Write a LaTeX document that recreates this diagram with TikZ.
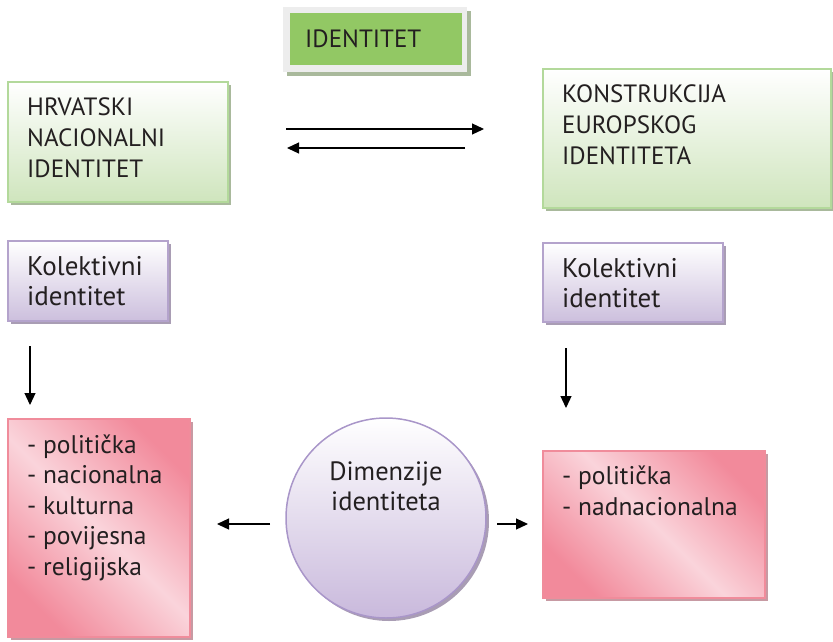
\documentclass[tikz,border=0pt]{standalone}
\usepackage{fontspec}
\setmainfont{PT Sans}
\usetikzlibrary{arrows.meta,shadows}
\definecolor{txt}{HTML}{231F20}
\definecolor{grnborder}{HTML}{B3D99B}
\definecolor{grnbot}{HTML}{CFE5BD}
\definecolor{grnshadow}{HTML}{A9B99C}
\definecolor{idframe}{HTML}{EDEDED}
\definecolor{idgreen}{HTML}{92C864}
\definecolor{purborder}{HTML}{B4A3CC}
\definecolor{purbot}{HTML}{CCBFDD}
\definecolor{purshadow}{HTML}{A99DB4}
\definecolor{pinkborder}{HTML}{F08C9B}
\definecolor{pinkdark}{HTML}{F28A9B}
\definecolor{pinklight}{HTML}{FAD4DB}
\definecolor{pinkshadow}{HTML}{C79AA3}
\definecolor{circborder}{HTML}{A996C9}
\definecolor{circbot}{HTML}{C9B9DC}
\begin{document}
\begin{tikzpicture}[x=1pt,y=-1pt,
  boxbase/.style={inner sep=0pt, outer sep=0pt, anchor=north west, line width=1.5pt},
  greenbox/.style={boxbase, draw=grnborder, top color=white, bottom color=grnbot,
    drop shadow={shadow xshift=3pt, shadow yshift=-3pt, fill=grnshadow, opacity=1}},
  purplebox/.style={boxbase, draw=purborder, top color=white, bottom color=purbot,
    drop shadow={shadow xshift=3pt, shadow yshift=-3pt, fill=purshadow, opacity=1}},
  pinkbox/.style={boxbase, draw=pinkborder, top color=pinkdark, bottom color=pinkdark,
    middle color=pinklight, shading angle=-45,
    drop shadow={shadow xshift=3pt, shadow yshift=-3pt, fill=pinkshadow, opacity=1}},
  bigtxt/.style={font=\fontsize{25}{31}\selectfont, text=txt, align=left, inner sep=0pt, anchor=base west},
  purtxt/.style={font=\fontsize{27}{29.5}\selectfont, text=txt, align=left, inner sep=0pt, anchor=base west},
  pinktxt/.style={font=\fontsize{25.5}{30.5}\selectfont, text=txt, align=left, inner sep=0pt, anchor=base west},
  arr/.style={-{Triangle[length=12pt,width=11pt]}, line width=1.2pt, black}
]
\useasboundingbox (0,0) rectangle (833,641);

% top IDENTITET box
\node[boxbase, fill=idframe, minimum width=184pt, minimum height=65pt,
  drop shadow={shadow xshift=4pt, shadow yshift=-4pt, fill=grnshadow, opacity=1}] (idframe) at (283,7) {};
\node[boxbase, fill=idgreen, minimum width=172pt, minimum height=52pt] (idbox) at (290,13) {};
\node[bigtxt] (idtxt) at (305,47) {IDENTITET};

% green boxes (text anchored at the baseline of the last line)
\node[greenbox, minimum width=220pt, minimum height=120pt] (hrv) at (8,82) {};
\node[bigtxt] (hrvtxt) at (27,177) {HRVATSKI\\NACIONALNI\\IDENTITET};
\node[greenbox, minimum width=288pt, minimum height=139pt] (eur) at (543,69) {};
\node[bigtxt] (eurtxt) at (562,164) {KONSTRUKCIJA\\EUROPSKOG\\IDENTITETA};

% purple boxes
\node[purplebox, minimum width=160pt, minimum height=80pt] (kolL) at (8,241) {};
\node[purtxt] (kolLtxt) at (27,305) {Kolektivni\\identitet};
\node[purplebox, minimum width=180pt, minimum height=79pt] (kolR) at (543,243) {};
\node[purtxt] (kolRtxt) at (562,307) {Kolektivni\\identitet};

% pink boxes
\node[pinkbox, minimum width=182pt, minimum height=218pt] (dimL) at (8,419) {};
\node[pinktxt] (dimLtxt) at (27,575) {- politička\\- nacionalna\\- kulturna\\- povijesna\\- religijska};
\node[pinkbox, minimum width=222pt, minimum height=147pt] (dimR) at (543,451) {};
\node[pinktxt] (dimRtxt) at (562,515) {- politička\\- nadnacionalna};

% circle
\node[circle, minimum size=200pt, inner sep=0pt, draw=circborder, line width=1.5pt,
  top color=white, bottom color=circbot,
  drop shadow={shadow xshift=3pt, shadow yshift=-3pt, fill=purshadow, opacity=1}] (circ) at (386,518) {};
\node[font=\fontsize{26.5}{30}\selectfont, text=txt, align=center, inner sep=0pt, anchor=base] (circtxt) at (386,510) {Dimenzije\\identiteta};

% arrow end points
\coordinate (a1s) at (286,129);
\coordinate (a1e) at (484,129);
\coordinate (a2s) at (465,148);
\coordinate (a2e) at (287,148);
\coordinate (dLs) at (30,346);
\coordinate (dLe) at (30,405);
\coordinate (dRs) at (566,348);
\coordinate (dRe) at (566,408);
\coordinate (hLs) at (270,524);
\coordinate (hLe) at (217,524);
\coordinate (hRs) at (497,524);
\coordinate (hRe) at (528,524);

\draw[arr] (a1s) -- (a1e);
\draw[arr] (a2s) -- (a2e);
\draw[arr] (dLs) -- (dLe);
\draw[arr] (dRs) -- (dRe);
\draw[arr] (hLs) -- (hLe);
\draw[arr] (hRs) -- (hRe);
\end{tikzpicture}
\end{document}
